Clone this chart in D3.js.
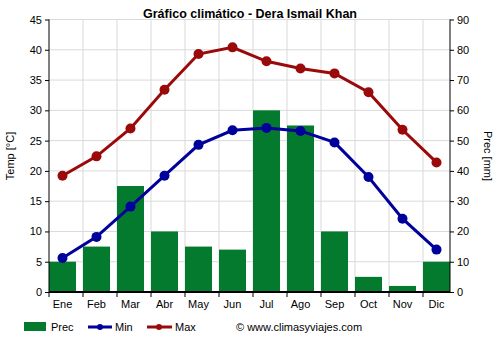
<!DOCTYPE html>
<html><head><meta charset="utf-8">
<script src="https://cdn.jsdelivr.net/npm/d3@7"></script>
<style>body{margin:0;background:#fff}svg{display:block;font-family:"Liberation Sans",Arial,sans-serif}</style>
</head><body><svg id="c" width="500" height="350"></svg>
<script>
const months = ["Ene","Feb","Mar","Abr","May","Jun","Jul","Ago","Sep","Oct","Nov","Dic"];
const prec = [10,15,35,20,15,14,60,55,20,5,2,10];
const tmin = [5.6,9.1,14.1,19.2,24.3,26.7,27.1,26.6,24.7,19.0,12.1,7.0];
const tmax = [19.2,22.4,27.0,33.4,39.3,40.4,38.1,36.9,36.1,33.0,26.8,21.4];
const tempTicks = [0,5,10,15,20,25,30,35,40,45];
const precTicks = [0,10,20,30,40,50,60,70,80,90];

const svg = d3.select("#c");
const L=49,R=450,T=19.5,B=292;
const x = d3.scaleBand().domain(months).range([L,R]).paddingInner(0.206).paddingOuter(0);
const yT = d3.scaleLinear().domain([0,45]).range([B,T]);
const yP = d3.scaleLinear().domain([0,90]).range([B,T]);
const cx = m => x(m)+x.bandwidth()/2;

// grid
const g = svg.append("g");
g.selectAll("line.h").data(tempTicks).join("line")
 .attr("x1",L).attr("x2",R).attr("y1",d=>yT(d)).attr("y2",d=>yT(d))
 .attr("stroke","#d9d9d9").attr("stroke-width",1);
g.selectAll("line.v").data(months.slice(1)).join("line")
 .attr("x1",d=>x(d)).attr("x2",d=>x(d)).attr("y1",T).attr("y2",B)
 .attr("stroke","#d9d9d9").attr("stroke-width",1);

// bars
svg.append("g").selectAll("rect").data(prec).join("rect")
 .attr("x",(d,i)=>x(months[i])).attr("width",x.bandwidth())
 .attr("y",d=>yP(d)).attr("height",d=>B-yP(d))
 .attr("fill","#047a2f");

// axes
const fs = "11px";
const axL = svg.append("g").attr("transform",`translate(${L},0)`).call(d3.axisLeft(yT).tickValues(tempTicks).tickSize(4).tickPadding(3));
const axR = svg.append("g").attr("transform",`translate(${R},0)`).call(d3.axisRight(yP).tickValues(precTicks).tickSize(4).tickPadding(3));
const axB = svg.append("g").attr("transform",`translate(0,${B})`).call(d3.axisBottom(x).tickSize(0).tickPadding(8));
[axL,axR,axB].forEach(a=>{a.selectAll("text").attr("font-size",fs).attr("fill","#000").attr("font-family","Liberation Sans, Arial, sans-serif");a.select(".domain").attr("stroke","#000");a.selectAll(".tick line").attr("stroke","#000");});
axL.select(".domain").attr("d",`M0,${T}V${B}`);
axR.select(".domain").attr("d",`M0,${T}V${B}`);
axB.select(".domain").attr("d",`M${L},0H${R}`).attr("stroke-width",2);
// bottom ticks at bar starts
svg.append("g").selectAll("line").data(months).join("line")
 .attr("x1",d=>x(d)).attr("x2",d=>x(d))
 .attr("y1",B).attr("y2",B+5).attr("stroke","#000");

// lines
function series(data,color){
  const line=d3.line().x((d,i)=>cx(months[i])).y(d=>yT(d));
  svg.append("path").datum(data).attr("d",line).attr("fill","none").attr("stroke",color).attr("stroke-width",3);
  svg.append("g").selectAll("circle").data(data).join("circle")
   .attr("cx",(d,i)=>cx(months[i])).attr("cy",d=>yT(d)).attr("r",5).attr("fill",color);
}
series(tmax,"#9b0a0a");
series(tmin,"#00009b");

// title and labels
svg.append("text").attr("x",250).attr("y",18).attr("text-anchor","middle").attr("font-size","12.5px").attr("font-weight","bold").text("Gráfico climático - Dera Ismail Khan");
svg.append("text").attr("transform","translate(14,156) rotate(-90)").attr("text-anchor","middle").attr("font-size","11px").text("Temp [°C]");
svg.append("text").attr("transform","translate(484,156) rotate(90)").attr("text-anchor","middle").attr("font-size","11px").text("Prec [mm]");

// legend
const lg = svg.append("g");
lg.append("rect").attr("x",24).attr("y",322).attr("width",22).attr("height",9).attr("fill","#047a2f");
lg.append("text").attr("x",51).attr("y",331).attr("font-size","11px").text("Prec");
lg.append("line").attr("x1",88).attr("x2",112).attr("y1",327).attr("y2",327).attr("stroke","#00009b").attr("stroke-width",3);
lg.append("circle").attr("cx",100).attr("cy",327).attr("r",3).attr("fill","#00009b");
lg.append("text").attr("x",115).attr("y",331).attr("font-size","11px").text("Min");
lg.append("line").attr("x1",147).attr("x2",172).attr("y1",327).attr("y2",327).attr("stroke","#9b0a0a").attr("stroke-width",3);
lg.append("circle").attr("cx",159).attr("cy",327).attr("r",3).attr("fill","#9b0a0a");
lg.append("text").attr("x",175).attr("y",331).attr("font-size","11px").text("Max");
lg.append("text").attr("x",236).attr("y",331).attr("font-size","11px").text("© www.climasyviajes.com");
</script></body></html>
